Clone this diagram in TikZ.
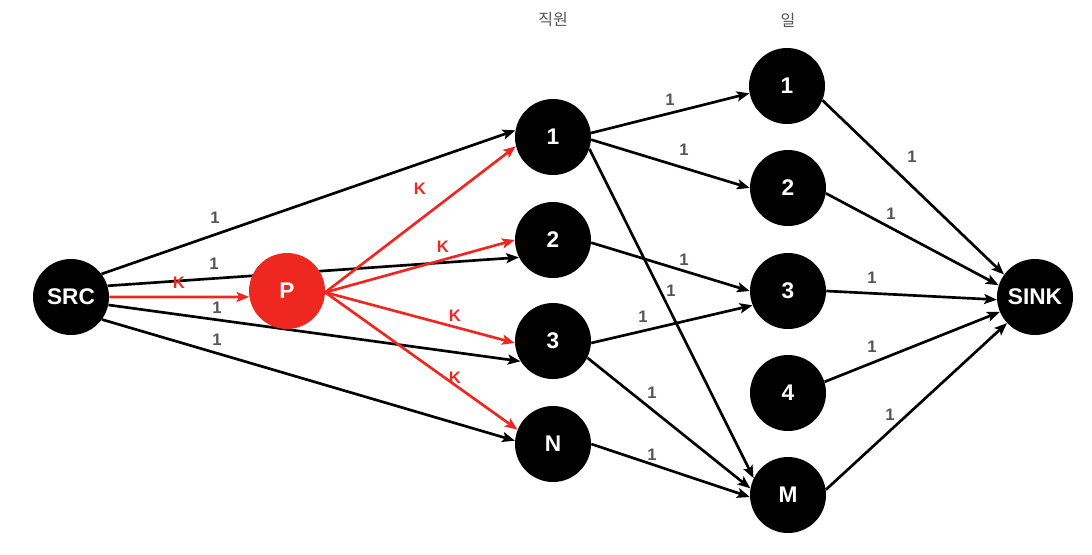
\documentclass[tikz,border=0pt]{standalone}
\usepackage{fontspec}
\setmainfont{Liberation Sans}
\newfontfamily\krfont{Noto Sans CJK KR}
\usetikzlibrary{arrows.meta}
\pgfdeclarelayer{bg}
\pgfsetlayers{bg,main}
\definecolor{pred}{RGB}{238,40,32}
\definecolor{lblgray}{RGB}{85,85,85}
\begin{document}
\begin{tikzpicture}[x=0.75pt,y=-0.75pt,
  vert/.style={circle,fill=black,minimum size=57pt,inner sep=0pt,text=white,font=\fontsize{17}{17}\selectfont\bfseries},
  pvert/.style={vert,fill=pred},
  edge/.style={line width=2pt,-{Stealth[length=9.5pt,width=7.5pt,inset=2pt]}},
  redge/.style={edge,draw=pred},
  lbl/.style={font=\fontsize{12.5}{12.5}\selectfont\bfseries,text=lblgray,inner sep=0pt},
  klbl/.style={lbl,text=pred},
  head/.style={font=\krfont\fontsize{12}{12}\selectfont,text=lblgray,inner sep=0pt}]
\useasboundingbox (0,0) rectangle (1092,554);
% headers
\node[head] (h1) at (553,20) {직원};
\node[head] (h2) at (788,20) {일};
% nodes
\node[vert] (src) at (71,297) {SRC};
\node[pvert] (p) at (287,291) {P};
\node[vert] (e1) at (553,137) {1};
\node[vert] (e2) at (553,240) {2};
\node[vert] (e3) at (553,341) {3};
\node[vert] (en) at (553,444) {N};
\node[vert] (j1) at (787,86) {1};
\node[vert] (j2) at (788,188) {2};
\node[vert] (j3) at (788,291) {3};
\node[vert] (j4) at (788,393) {4};
\node[vert] (jm) at (788,495) {M};
\node[vert] (sink) at (1035,297) {SINK};
\begin{pgfonlayer}{bg}
% source edges
\draw[edge] (src.37) -- (e1.170);
\draw[edge] (src.17) -- (e2.207);
\draw[edge] (src.-12) -- (e3.212);
\draw[edge] (src.-36) -- (en.175);
% employee to job
\draw[edge] (e1.6) -- (j1.191);
\draw[edge] (e1.-4) -- (j2.180);
\draw[edge] (e1.-18) -- (jm.154);
\draw[edge] (e2.-4) -- (j3.180);
\draw[edge] (e3.-3) -- (j3.202);
\draw[edge] (e3.-26) -- (jm.170);
\draw[edge] (en.0) -- (jm.183);
% job to sink
\draw[edge] (j1.-22) -- (sink.144);
\draw[edge] (j2.-8) -- (sink.162);
\draw[edge] (j3.0) -- (sink.184);
\draw[edge] (j4.17) -- (sink.203);
\draw[edge] (jm.8) -- (sink.223);
% red edges
\draw[redge] (src.0) -- (p.189);
\draw[redge] (p.-2) -- (e1.194);
\draw[redge] (p.-2) -- (e2.180);
\draw[redge] (p.-2) -- (e3.183);
\draw[redge] (p.-2) -- (en.158);
\end{pgfonlayer}
% labels
\node[lbl] (l1) at (215,218) {1};
\node[lbl] (l2) at (214,264) {1};
\node[klbl] (k0) at (179,283) {K};
\node[lbl] (l3) at (217,308) {1};
\node[lbl] (l4) at (217,340) {1};
\node[klbl] (k1) at (420,189) {K};
\node[klbl] (k2) at (443,247) {K};
\node[klbl] (k3) at (455,316) {K};
\node[klbl] (k4) at (455,378) {K};
\node[lbl] (l5) at (670,100) {1};
\node[lbl] (l6) at (684,150) {1};
\node[lbl] (l7) at (684,260) {1};
\node[lbl] (l8) at (671,291) {1};
\node[lbl] (l9) at (643,317) {1};
\node[lbl] (l10) at (652,393) {1};
\node[lbl] (l11) at (652,455) {1};
\node[lbl] (l12) at (912,157) {1};
\node[lbl] (l13) at (891,214) {1};
\node[lbl] (l14) at (872,278) {1};
\node[lbl] (l15) at (872,347) {1};
\node[lbl] (l16) at (890,415) {1};
\end{tikzpicture}
\end{document}
